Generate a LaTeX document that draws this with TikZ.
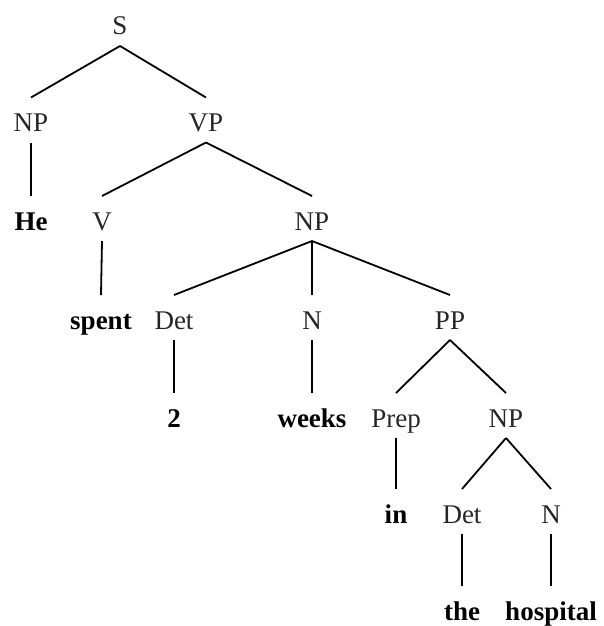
\documentclass[tikz,border=0pt]{standalone}
\usepackage{fontspec}
\setmainfont{Liberation Serif}
\newcommand\tedge[2]{\draw[edge] ([yshift=-11pt]#1.base) -- ([yshift=34pt]#2.base);}
\begin{document}
\begin{tikzpicture}[x=1pt,y=-1pt,
  lbl/.style={anchor=base,inner sep=0pt,text=black!85,font=\fontsize{27}{30}\selectfont},
  word/.style={lbl,text=black,font=\fontsize{27}{30}\selectfont\bfseries},
  edge/.style={line width=1.8pt,black}]
\useasboundingbox (0,0) rectangle (603,626);
\node[lbl] (S) at (120,35) {S};
\node[lbl] (np1) at (31,131.5) {NP};
\node[lbl] (vp) at (206,131.5) {VP};
\node[word] (he) at (31,230) {He};
\node[lbl] (v) at (102,230) {V};
\node[lbl] (np2) at (312,230) {NP};
\node[word] (spent) at (101,329) {spent};
\node[lbl] (det1) at (174,329) {Det};
\node[lbl] (n1) at (312,329) {N};
\node[lbl] (pp) at (450,329) {PP};
\node[word] (two) at (174,427) {2};
\node[word] (weeks) at (312,427) {weeks};
\node[lbl] (prep) at (396,427) {Prep};
\node[lbl] (np3) at (506,427) {NP};
\node[word] (in) at (396,523) {in};
\node[lbl] (det2) at (462,523) {Det};
\node[lbl] (n2) at (551,523) {N};
\node[word] (the) at (462,620) {the};
\node[word] (hosp) at (551,620) {hospital};
\tedge{S}{np1}
\tedge{S}{vp}
\tedge{np1}{he}
\tedge{vp}{v}
\tedge{vp}{np2}
\tedge{v}{spent}
\tedge{np2}{det1}
\tedge{np2}{n1}
\tedge{np2}{pp}
\tedge{det1}{two}
\tedge{n1}{weeks}
\tedge{pp}{prep}
\tedge{pp}{np3}
\tedge{prep}{in}
\tedge{np3}{det2}
\tedge{np3}{n2}
\tedge{det2}{the}
\tedge{n2}{hosp}
\end{tikzpicture}
\end{document}
